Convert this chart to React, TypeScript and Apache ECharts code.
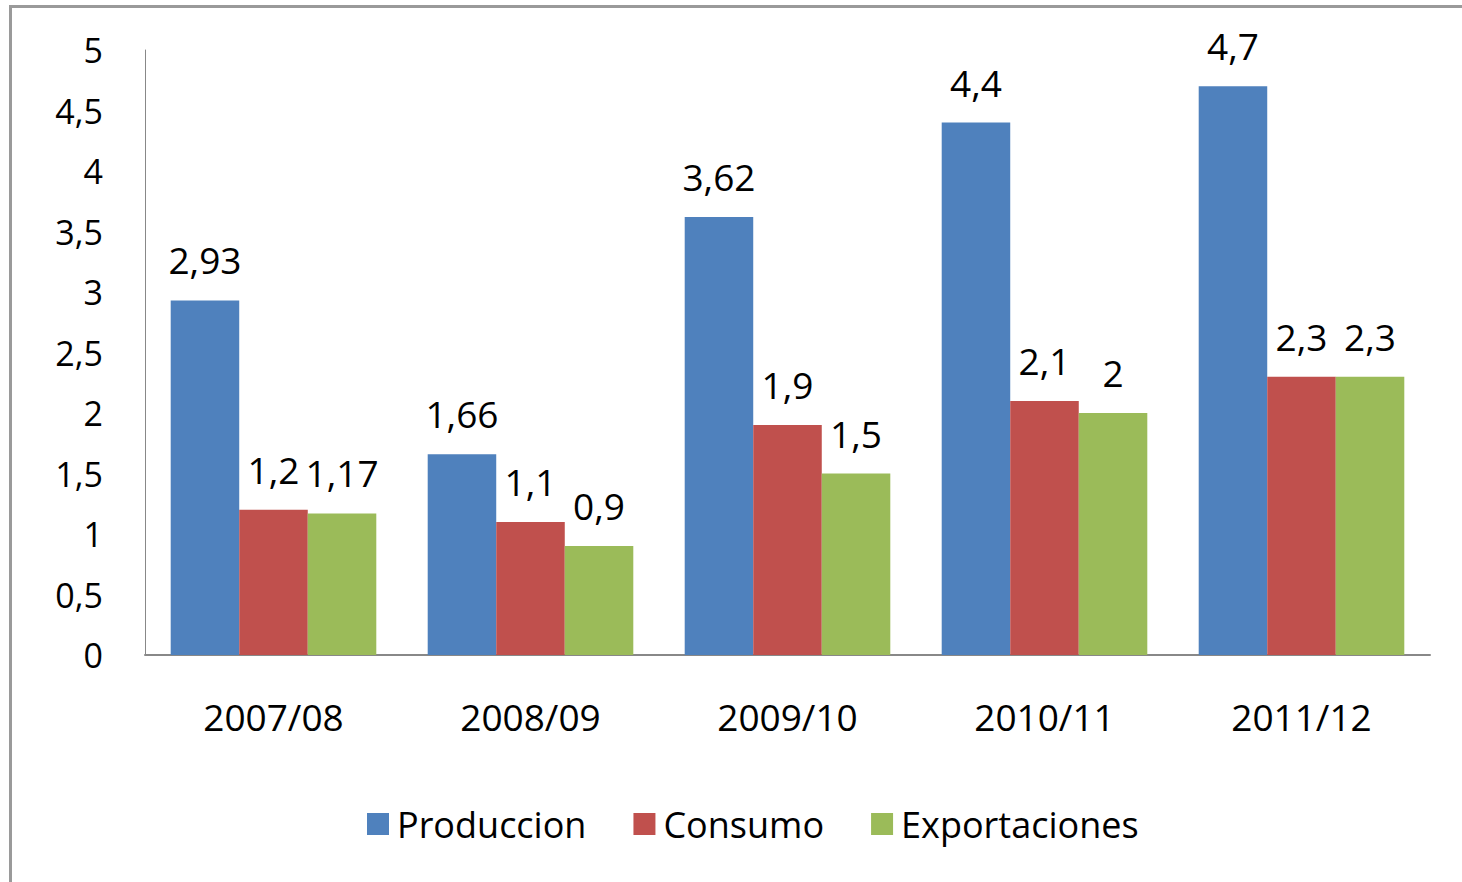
import React, { useEffect, useRef } from "react";
import * as echarts from "echarts";

const categories = ["2007/08", "2008/09", "2009/10", "2010/11", "2011/12"];
const produccion = [2.93, 1.66, 3.62, 4.4, 4.7];
const consumo = [1.2, 1.1, 1.9, 2.1, 2.3];
const exportaciones = [1.17, 0.9, 1.5, 2, 2.3];
const seriesNames = ["Produccion", "Consumo", "Exportaciones"];
const colors = ["#4F81BD", "#C0504D", "#9BBB59"];

const FONT = "'Open Sans', 'Noto Sans', sans-serif";

const fmt = (v: number) => String(v).replace(".", ",");

export default function App() {
  const ref = useRef<HTMLDivElement>(null);
  useEffect(() => {
    if (!ref.current) return;
    const chart = echarts.init(ref.current, null, { renderer: "svg" });
    const mk = (name: string, data: number[], color: string) => ({
      name,
      type: "bar",
      data,
      barGap: "0%",
      barCategoryGap: "20%",
      itemStyle: { color },
      label: {
        show: true,
        position: "top",
        distance: 22,
        color: "#000",
        fontFamily: FONT,
        fontSize: 37,
        formatter: (p: any) => fmt(p.value),
      },
    });
    chart.setOption({
      animation: false,
      backgroundColor: "#fff",
      graphic: [
        {
          type: "rect",
          shape: { x: 10.5, y: 6.5, width: 1600, height: 1000 },
          style: { fill: "none", stroke: "#9a9a9a", lineWidth: 3 },
          silent: true,
        },
      ],
      grid: { left: 145, top: 50, right: 32, bottom: 227, containLabel: false },
      legend: {
        data: seriesNames,
        top: 806,
        left: 367,
        padding: 0,
        itemWidth: 22,
        itemHeight: 22,
        itemGap: 47,
        icon: "rect",
        textStyle: { fontFamily: FONT, fontSize: 36, color: "#000", padding: [0, 0, 0, 3] },
      },
      xAxis: {
        type: "category",
        data: categories,
        axisLine: { show: true, lineStyle: { color: "#888", width: 2 } },
        axisTick: { show: false },
        axisLabel: { margin: 43, fontFamily: FONT, fontSize: 37, color: "#000" },
      },
      yAxis: {
        type: "value",
        min: 0,
        max: 5,
        interval: 0.5,
        splitLine: { show: false },
        axisLine: { show: true, lineStyle: { color: "#888", width: 1 } },
        axisTick: { show: false },
        axisLabel: {
          margin: 42,
          fontFamily: FONT,
          fontSize: 34,
          color: "#000",
          formatter: (v: number) => fmt(v),
        },
      },
      series: [
        mk(seriesNames[0], produccion, colors[0]),
        mk(seriesNames[1], consumo, colors[1]),
        mk(seriesNames[2], exportaciones, colors[2]),
      ],
    });
    return () => chart.dispose();
  }, []);
  return (
    <div
      ref={ref}
      style={{ position: "absolute", left: 0, top: 0, width: 1462, height: 882 }}
    />
  );
}
